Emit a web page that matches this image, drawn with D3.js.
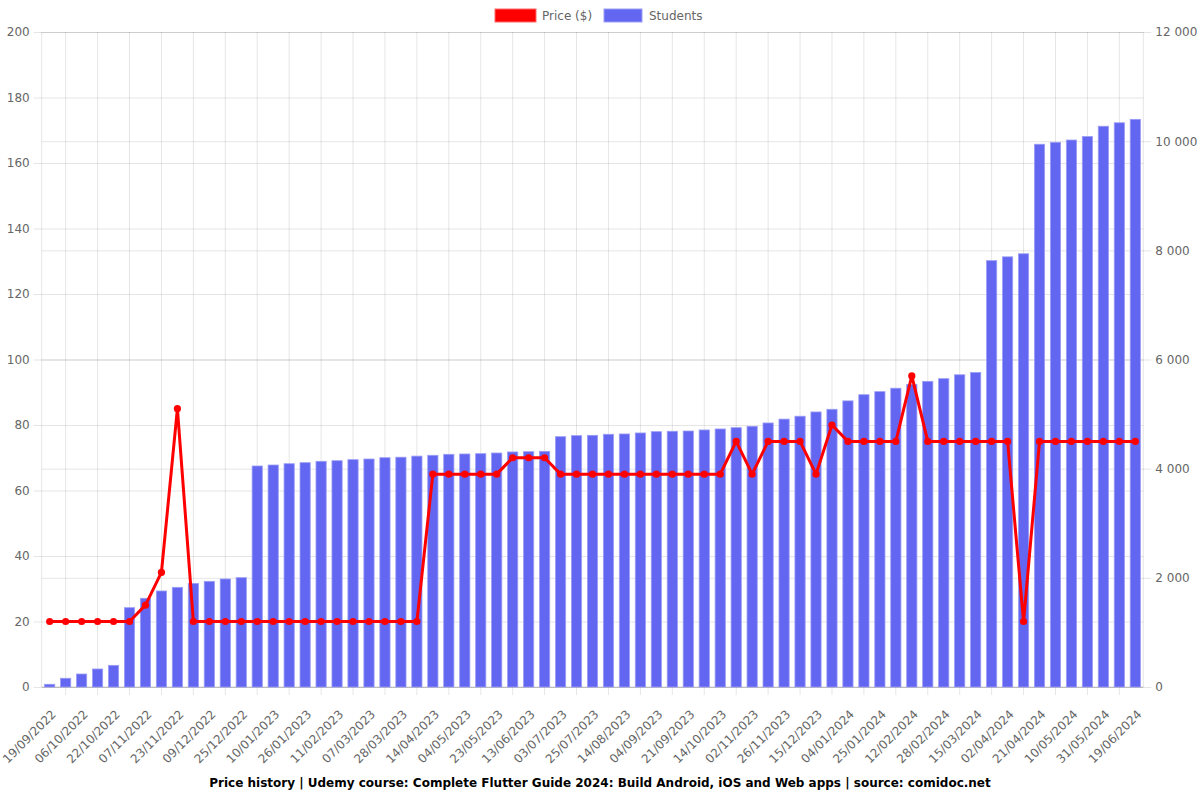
<!DOCTYPE html>
<html>
<head>
<meta charset="utf-8">
<script src="https://cdnjs.cloudflare.com/ajax/libs/d3/7.8.5/d3.min.js"></script>
<style>
  body { margin: 0; background: #fff; }
  svg { display: block; font-family: "DejaVu Sans", sans-serif; }
</style>
</head>
<body>
<svg id="chart" width="1200" height="800"></svg>
<script>
// x tick labels (every second bar carries a label)
const tickLabels = ["19/09/2022", "06/10/2022", "22/10/2022", "07/11/2022", "23/11/2022",
  "09/12/2022", "25/12/2022", "10/01/2023", "26/01/2023", "11/02/2023", "07/03/2023",
  "28/03/2023", "14/04/2023", "04/05/2023", "23/05/2023", "13/06/2023", "03/07/2023",
  "25/07/2023", "14/08/2023", "04/09/2023", "21/09/2023", "14/10/2023", "02/11/2023",
  "26/11/2023", "15/12/2023", "04/01/2024", "25/01/2024", "12/02/2024", "28/02/2024",
  "15/03/2024", "02/04/2024", "21/04/2024", "10/05/2024", "31/05/2024", "19/06/2024"];

// price in $, one per bar
const price = [20, 20, 20, 20, 20, 20, 25, 35, 85,
  20, 20, 20, 20, 20, 20, 20, 20, 20, 20, 20, 20, 20, 20, 20,
  65, 65, 65, 65, 65, 70, 70, 70,
  65, 65, 65, 65, 65, 65, 65, 65, 65, 65, 65,
  75, 65, 75, 75, 75, 65, 80, 75, 75, 75, 75, 95,
  75, 75, 75, 75, 75, 75, 20, 75, 75, 75, 75, 75, 75, 75];

// students count, one per bar
const students = [50, 160, 238, 330, 397, 1453, 1625, 1759, 1826, 1899, 1936, 1979, 2003,
  4049, 4067, 4091, 4110, 4135, 4146, 4165, 4177, 4201, 4210, 4230, 4245, 4263, 4269,
  4275, 4287, 4306, 4311, 4318, 4586, 4605, 4611, 4630, 4636, 4654, 4678, 4685, 4690,
  4709, 4727, 4751, 4776, 4837, 4908, 4961, 5039, 5088, 5242, 5355, 5411, 5474, 5544,
  5600, 5649, 5720, 5762, 7811, 7881, 7937, 9944, 9979, 10021, 10085, 10274, 10337, 10400];

const priceTicks = [0, 20, 40, 60, 80, 100, 120, 140, 160, 180, 200];
const studentTicks = [0, 2000, 4000, 6000, 8000, 10000, 12000];

const title = "Price history | Udemy course: Complete Flutter Guide 2024: Build Android, iOS and Web apps | source: comidoc.net";

const plotLeft = 41.7, plotRight = 1143.3, plotTop = 32, plotBottom = 687;
const gridColor = "rgba(0,0,0,0.1)";
const barColor = "#6366f1";
const lineColor = "#ff0000";

const svg = d3.select("#chart");

const categories = d3.range(students.length);
const x = d3.scaleBand()
  .domain(categories)
  .range([plotLeft, plotRight])
  .paddingInner(0.36)
  .paddingOuter(0.18);
const cx = i => x(i) + x.bandwidth() / 2;

const yL = d3.scaleLinear().domain([0, 200]).range([plotBottom, plotTop]);
const yR = d3.scaleLinear().domain([0, 12000]).range([plotBottom, plotTop]);

const fmt = d3.formatLocale({ decimal: ".", thousands: "\u00a0", grouping: [3], currency: ["", ""] }).format(",d");

// horizontal grid, left axis ticks
const gl = svg.append("g").attr("transform", `translate(${plotLeft},0)`)
  .call(d3.axisLeft(yL).tickValues(priceTicks).tickSize(-(plotRight - plotLeft)).tickFormat(""));
gl.select(".domain").remove();
gl.selectAll("line").attr("x1", -8).attr("stroke", gridColor);

// horizontal grid, right axis ticks
const gr = svg.append("g").attr("transform", `translate(${plotRight},0)`)
  .call(d3.axisRight(yR).tickValues(studentTicks).tickSize(8).tickFormat(""));
gr.select(".domain").remove();
gr.selectAll("line").attr("x1", -(plotRight - plotLeft)).attr("stroke", gridColor);

// vertical grid lines between labelled ticks
const oddIdx = categories.filter(i => i % 2 === 1);
svg.append("g").selectAll("line")
  .data(oddIdx)
  .join("line")
  .attr("x1", d => cx(d)).attr("x2", d => cx(d))
  .attr("y1", plotTop).attr("y2", plotBottom + 8)
  .attr("stroke", gridColor);

// plot borders
svg.append("line").attr("x1", plotLeft).attr("x2", plotLeft).attr("y1", plotTop).attr("y2", plotBottom).attr("stroke", gridColor);
svg.append("line").attr("x1", plotRight).attr("x2", plotRight).attr("y1", plotTop).attr("y2", plotBottom).attr("stroke", gridColor);
svg.append("line").attr("x1", plotLeft).attr("x2", plotRight).attr("y1", plotBottom).attr("y2", plotBottom).attr("stroke", "rgba(0,0,0,0.15)");

// left tick labels
const al = svg.append("g").attr("transform", `translate(${plotLeft - 8},0)`)
  .call(d3.axisLeft(yL).tickValues(priceTicks).tickSize(0).tickPadding(4));
al.select(".domain").remove();
al.selectAll("text").attr("fill", "#666").style("font-size", "12px").style("font-family", "DejaVu Sans");

// right tick labels
const ar = svg.append("g").attr("transform", `translate(${plotRight + 8},0)`)
  .call(d3.axisRight(yR).tickValues(studentTicks).tickSize(0).tickPadding(4).tickFormat(fmt));
ar.select(".domain").remove();
ar.selectAll("text").attr("fill", "#666").style("font-size", "12px").style("font-family", "DejaVu Sans");

// x tick labels
const evenIdx = categories.filter(i => i % 2 === 0);
const ax = svg.append("g").attr("transform", `translate(0,${plotBottom})`)
  .call(d3.axisBottom(x).tickValues(evenIdx).tickSize(0).tickFormat(i => tickLabels[i / 2]));
ax.select(".domain").remove();
ax.selectAll("text")
  .attr("fill", "#666")
  .style("font-size", "12px")
  .style("font-family", "DejaVu Sans")
  .attr("text-anchor", "end")
  .attr("dy", null)
  .attr("y", 0)
  .attr("transform", "translate(7,28) rotate(-45)");

// bars
svg.append("g").selectAll("rect")
  .data(students)
  .join("rect")
  .attr("x", (d, i) => x(i))
  .attr("y", d => yR(d))
  .attr("width", x.bandwidth())
  .attr("height", d => plotBottom - yR(d))
  .attr("fill", barColor)
  .attr("stroke", "#9b9df6")
  .attr("stroke-width", 0.8);

// price line
const line = d3.line().x((d, i) => cx(i)).y(d => yL(d));
svg.append("path")
  .datum(price)
  .attr("d", line)
  .attr("fill", "none")
  .attr("stroke", lineColor)
  .attr("stroke-width", 3)
  .attr("stroke-linejoin", "round");

svg.append("g").selectAll("circle")
  .data(price)
  .join("circle")
  .attr("cx", (d, i) => cx(i))
  .attr("cy", d => yL(d))
  .attr("r", 3.6)
  .attr("fill", lineColor);

// legend
const legend = svg.append("g").style("font-size", "12px");
legend.append("rect").attr("x", 495).attr("y", 9).attr("width", 41).attr("height", 13)
  .attr("fill", lineColor).attr("stroke", "#ff6b6b").attr("stroke-width", 1);
legend.append("text").attr("x", 542).attr("y", 20).attr("fill", "#666").text("Price ($)");
legend.append("rect").attr("x", 604).attr("y", 9).attr("width", 38).attr("height", 13)
  .attr("fill", barColor).attr("stroke", "#9b9df6").attr("stroke-width", 1);
legend.append("text").attr("x", 649).attr("y", 20).attr("fill", "#666").text("Students");

// title at bottom
svg.append("text")
  .attr("x", 600).attr("y", 787)
  .attr("text-anchor", "middle")
  .style("font-size", "12px")
  .style("font-weight", "bold")
  .attr("fill", "#000")
  .text(title);
</script>
</body>
</html>
